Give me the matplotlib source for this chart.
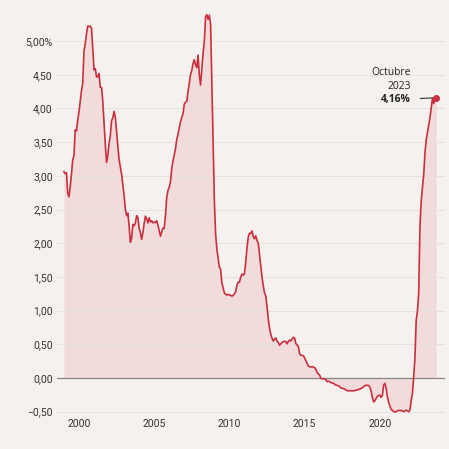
import numpy as np
import matplotlib.pyplot as plt

# Euribor a 12 meses, media mensual, ene 1999 - oct 2023
euribor = [
    3.062, 3.032, 3.046, 2.747, 2.688, 2.837, 3.023, 3.237, 3.301, 3.683, 3.666, 3.828,  # 1999
    3.949, 4.111, 4.265, 4.374, 4.853, 4.960, 5.108, 5.224, 5.219, 5.221, 5.193, 4.877,  # 2000
    4.574, 4.591, 4.471, 4.468, 4.519, 4.315, 4.311, 4.103, 3.768, 3.460, 3.198, 3.300,  # 2001
    3.481, 3.594, 3.820, 3.860, 3.958, 3.869, 3.645, 3.440, 3.240, 3.130, 3.023, 2.872,  # 2002
    2.709, 2.502, 2.410, 2.446, 2.252, 2.014, 2.076, 2.279, 2.258, 2.298, 2.409, 2.381,  # 2003
    2.218, 2.155, 2.058, 2.160, 2.292, 2.401, 2.360, 2.302, 2.377, 2.315, 2.333, 2.302,  # 2004
    2.312, 2.306, 2.334, 2.267, 2.186, 2.103, 2.168, 2.223, 2.218, 2.414, 2.684, 2.783,  # 2005
    2.833, 2.914, 3.105, 3.221, 3.308, 3.401, 3.539, 3.615, 3.715, 3.799, 3.864, 3.921,  # 2006
    4.064, 4.094, 4.106, 4.253, 4.373, 4.505, 4.564, 4.666, 4.725, 4.647, 4.607, 4.793,  # 2007
    4.498, 4.349, 4.590, 4.820, 4.994, 5.361, 5.393, 5.323, 5.384, 5.248, 4.350, 3.452,  # 2008
    2.622, 2.135, 1.909, 1.771, 1.644, 1.610, 1.412, 1.334, 1.261, 1.243, 1.231, 1.242,  # 2009
    1.232, 1.225, 1.215, 1.225, 1.249, 1.281, 1.373, 1.421, 1.420, 1.495, 1.541, 1.526,  # 2010
    1.550, 1.714, 1.924, 2.086, 2.147, 2.144, 2.183, 2.097, 2.067, 2.110, 2.044, 2.004,  # 2011
    1.837, 1.678, 1.499, 1.368, 1.266, 1.219, 1.061, 0.877, 0.740, 0.650, 0.588, 0.549,  # 2012
    0.575, 0.594, 0.545, 0.528, 0.484, 0.507, 0.525, 0.542, 0.543, 0.541, 0.506, 0.543,  # 2013
    0.562, 0.549, 0.577, 0.604, 0.592, 0.513, 0.488, 0.469, 0.362, 0.338, 0.335, 0.329,  # 2014
    0.298, 0.255, 0.212, 0.180, 0.165, 0.163, 0.167, 0.161, 0.154, 0.128, 0.079, 0.059,  # 2015
    0.042, -0.008, -0.012, -0.010, -0.013, -0.028, -0.056, -0.048, -0.057, -0.069, -0.074, -0.080,  # 2016
    -0.095, -0.106, -0.110, -0.119, -0.127, -0.149, -0.154, -0.156, -0.168, -0.180, -0.189, -0.190,  # 2017
    -0.189, -0.191, -0.191, -0.190, -0.188, -0.181, -0.180, -0.169, -0.166, -0.154, -0.147, -0.129,  # 2018
    -0.116, -0.108, -0.109, -0.112, -0.134, -0.190, -0.283, -0.356, -0.339, -0.304, -0.272, -0.261,  # 2019
    -0.253, -0.288, -0.266, -0.108, -0.081, -0.147, -0.279, -0.359, -0.415, -0.466, -0.481, -0.497,  # 2020
    -0.505, -0.501, -0.487, -0.484, -0.481, -0.484, -0.491, -0.498, -0.492, -0.477, -0.487, -0.502,  # 2021
    -0.477, -0.335, -0.237, 0.013, 0.287, 0.852, 0.992, 1.249, 2.233, 2.629, 2.828, 3.018,  # 2022
    3.337, 3.534, 3.647, 3.757, 3.862, 4.007, 4.149, 4.073, 4.149, 4.160,  # 2023
]
start_year = 1999
year_ticks = [2000, 2005, 2010, 2015, 2020]
y_ticks = [-0.5, 0, 0.5, 1, 1.5, 2, 2.5, 3, 3.5, 4, 4.5, 5]
label_month = "Octubre"
label_year = "2023"
label_value = "4,16%"

y = np.array(euribor)
x = start_year + np.arange(len(y)) / 12

bg = "#f4f1ee"
red = "#c9303f"
fill = "#f1dbdb"

plt.rcParams["font.family"] = ["Roboto", "DejaVu Sans"]

fig = plt.figure(figsize=(4.49, 4.49), dpi=100, facecolor=bg)
ax = fig.add_axes([0.127, 0.0757, 0.864, 0.9243])
ax.set_facecolor(bg)

ax.fill_between(x, y, 0, color=fill, lw=0, zorder=1)
ax.plot(x, y, color=red, lw=1.2, zorder=3)
ax.axhline(0, color="#8a8583", lw=0.9, zorder=2)
ax.plot(x[-1], y[-1], "o", color=red, ms=4, zorder=4)

ax.set_xlim(1998.54, 2024.33)
ax.set_ylim(-0.55, 5.61)

ax.set_yticks(y_ticks)
ylabels = [f"{v:.2f}".replace(".", ",").replace("-", "\u2212") for v in y_ticks]
ylabels[-1] = ylabels[-1] + "%"
ax.set_yticklabels(ylabels)
ax.set_xticks(year_ticks)
ax.set_xticklabels([str(t) for t in year_ticks])
ax.tick_params(length=0, labelsize=7.5, labelcolor="#333333")
ax.tick_params(axis="y", pad=3)
ax.tick_params(axis="x", pad=3)
ax.grid(axis="y", color="#e6e1dc", lw=0.7, zorder=0)
for s in ax.spines.values():
    s.set_visible(False)

ann_font = ["Open Sans", "DejaVu Sans"]
ax.annotate(label_value, xy=(x[-1], y[-1]), xytext=(-18, -1.5),
            textcoords="offset points", ha="right", va="center",
            fontsize=7.4, fontweight="bold", color="#222222", family=ann_font,
            arrowprops=dict(arrowstyle="-", color="#333333", lw=0.8,
                            shrinkA=4.5, shrinkB=2))
ax.annotate(label_year, xy=(x[-1], y[-1]), xytext=(-18, 8.3),
            textcoords="offset points", ha="right", va="center",
            fontsize=7.4, color="#222222", family=ann_font)
ax.annotate(label_month, xy=(x[-1], y[-1]), xytext=(-18, 18),
            textcoords="offset points", ha="right", va="center",
            fontsize=7.4, color="#222222", family=ann_font)

fig.savefig("out.png", dpi=100, facecolor=bg)
